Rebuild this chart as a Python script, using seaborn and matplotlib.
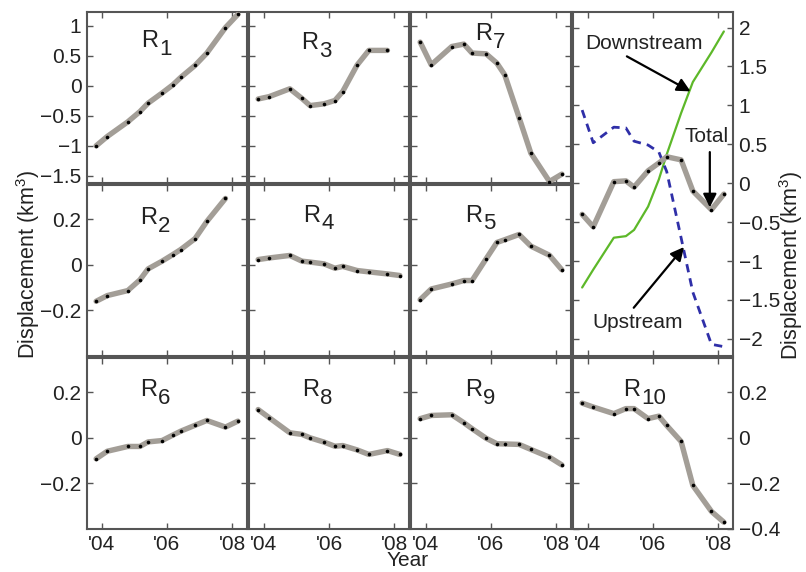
import numpy as np
import pandas as pd
import matplotlib
matplotlib.use("Agg")
import matplotlib.pyplot as plt
import seaborn as sns

# ---------------- data ----------------
T = [2003.83, 2004.17, 2004.80, 2005.17, 2005.42, 2005.85, 2006.18, 2006.42,
     2006.86, 2007.22, 2007.79, 2008.17]
nan = np.nan
R1 = [-1.00, -0.845, -0.60, -0.43, -0.29, -0.12, 0.017, 0.14, 0.34, 0.545, 0.97, 1.19]
R3 = [-0.22, -0.18, -0.05, -0.21, -0.33, -0.30, -0.245, -0.095, 0.345, 0.59, 0.59, nan]
R7 = [0.728, 0.35, 0.655, 0.695, 0.545, 0.533, 0.378, 0.183, -0.53, -1.122, -1.595, -1.472]
R2 = [-0.16, -0.135, -0.113, -0.066, -0.018, 0.016, 0.045, 0.067, 0.115, 0.19, 0.291, nan]
R4 = [0.023, 0.03, 0.041, 0.016, 0.012, 0.004, -0.015, -0.007, -0.025, -0.031, -0.04, -0.047]
R5 = [-0.153, -0.106, -0.084, -0.069, -0.069, 0.026, 0.098, 0.110, 0.133, 0.082, 0.042, -0.022]
R6 = [-0.092, -0.059, -0.038, -0.038, -0.018, -0.012, 0.012, 0.029, 0.055, 0.076, 0.047, 0.073]
R8 = [0.124, 0.088, 0.022, 0.015, 0.0, -0.019, -0.037, -0.034, -0.053, -0.073, -0.056, -0.073]
R9 = [0.084, 0.098, 0.101, 0.066, 0.04, -0.002, -0.026, -0.027, -0.029, -0.051, -0.085, -0.119]
R10 = [0.152, 0.135, 0.106, 0.128, 0.128, 0.084, 0.095, 0.054, -0.016, -0.209, -0.323, -0.370]
TOTAL = [-0.40, -0.56, 0.02, 0.03, -0.05, 0.16, 0.26, 0.34, 0.30, -0.10, -0.34, -0.14]
UPSTREAM = [0.94, 0.52, 0.72, 0.71, 0.54, 0.49, 0.40, 0.15, -0.70, -1.40, -2.07, -2.10]
DOWNSTREAM = [-1.34, -1.11, -0.70, -0.68, -0.60, -0.30, 0.05, 0.37, 0.90, 1.30, 1.68, 1.95]

XTICKS = [2004, 2006, 2008]
XTICKLABELS = ["'04", "'06", "'08"]
ROW1_TICKS = [-1.5, -1.0, -0.5, 0.0, 0.5, 1.0]
ROW1_LABELS = ["\u22121.5", "\u22121", "\u22120.5", "0", "0.5", "1"]
SMALL_TICKS = [-0.2, 0.0, 0.2]
SMALL_LABELS = ["\u22120.2", "0", "0.2"]
R10_TICKS = [-0.4, -0.2, 0.0, 0.2]
R10_LABELS = ["\u22120.4", "\u22120.2", "0", "0.2"]
TR_TICKS = [-2.0, -1.5, -1.0, -0.5, 0.0, 0.5, 1.0, 1.5, 2.0]
TR_LABELS = ["\u22122", "\u22121.5", "\u22121", "\u22120.5", "0", "0.5", "1", "1.5", "2"]

# ---------------- style ----------------
sns.set_theme(style="white")
plt.rcParams["font.family"] = ["Liberation Sans", "DejaVu Sans"]
plt.rcParams["mathtext.fontset"] = "custom"
plt.rcParams["mathtext.rm"] = "Liberation Sans"
plt.rcParams["mathtext.it"] = "Liberation Sans:italic"
plt.rcParams["mathtext.bf"] = "Liberation Sans:bold"

GRAY = "#a39e97"
SPINE = "#555555"
TXT = "#222222"
TICKFS = 15
XLIM = (2003.55, 2008.45)
ROW1_LIM = (-1.62, 1.23)
SMALL_LIM = (-0.40, 0.35)
TR_LIM = (-2.22, 2.20)

W, H = 806, 572
fig = plt.figure(figsize=(W / 100, H / 100), dpi=100)
fig.patch.set_facecolor("white")


def add(left, top, w, h):
    return fig.add_axes([left / W, 1 - (top + h) / H, w / W, h / H])


COLS = [87, 249, 411, 573]
ROWS = [12, 185, 358]
PW, PH = 160, 171


def style(ax, ylim, yticks):
    ax.set_xlim(*XLIM)
    ax.set_ylim(*ylim)
    ax.set_xticks(XTICKS)
    ax.set_yticks(yticks)
    ax.set_xticklabels([])
    ax.set_yticklabels([])
    ax.tick_params(direction="in", length=4, width=1, color=SPINE,
                   top=True, right=True, bottom=True, left=True,
                   labelsize=TICKFS, labelcolor=TXT, pad=4)
    for s in ax.spines.values():
        s.set_color(SPINE)
        s.set_linewidth(1.5)
    ax.set_xlabel("")
    ax.set_ylabel("")
    ax.set_facecolor("white")


def draw(ax, vals):
    df = pd.DataFrame({"t": T, "v": vals}).dropna()
    sns.lineplot(data=df, x="t", y="v", ax=ax, color=GRAY, linewidth=3.9,
                 marker="o", markersize=2.6, markerfacecolor="black",
                 markeredgecolor="black", markeredgewidth=0, sort=False,
                 errorbar=None, zorder=3)


def label(ax, num, bx, ry):
    # "R" with a large, lowered subscript number, as in the reference
    ax.text(bx, ry, "R", transform=ax.transAxes, ha="right", va="center",
            fontsize=17, color=TXT)
    ax.text(bx + 0.008, ry - 0.048, num, transform=ax.transAxes, ha="left",
            va="center", fontsize=16, color=TXT)


panels = [
    (0, 0, R1, "1", 0.444, 0.83, ROW1_LIM, ROW1_TICKS),
    (1, 0, R3, "3", 0.43, 0.816, ROW1_LIM, ROW1_TICKS),
    (2, 0, R7, "7", 0.506, 0.87, ROW1_LIM, ROW1_TICKS),
    (0, 1, R2, "2", 0.4375, 0.807, SMALL_LIM, SMALL_TICKS),
    (1, 1, R4, "4", 0.444, 0.82, SMALL_LIM, SMALL_TICKS),
    (2, 1, R5, "5", 0.444, 0.82, SMALL_LIM, SMALL_TICKS),
    (0, 2, R6, "6", 0.4375, 0.81, SMALL_LIM, SMALL_TICKS),
    (1, 2, R8, "8", 0.4375, 0.81, SMALL_LIM, SMALL_TICKS),
    (2, 2, R9, "9", 0.444, 0.81, SMALL_LIM, SMALL_TICKS),
    (3, 2, R10, "10", 0.42, 0.81, SMALL_LIM, R10_TICKS),
]

for c, r, vals, num, bx, ry, ylim, yt in panels:
    ax = add(COLS[c], ROWS[r], PW, PH)
    draw(ax, vals)
    style(ax, ylim, yt)
    label(ax, num, bx, ry)
    if c == 0:
        ax.set_yticklabels(ROW1_LABELS if r == 0 else SMALL_LABELS)
    if r == 2:
        ax.set_xticklabels(XTICKLABELS)
    if c == 3:
        ax.tick_params(labelleft=False, labelright=True)
        ax.set_yticklabels(R10_LABELS)

# ---- top right panel ----
ax = add(COLS[3], ROWS[0], PW, ROWS[1] + PH - ROWS[0])
sns.lineplot(x=T, y=DOWNSTREAM, ax=ax, color="#5db829", linewidth=1.6,
             sort=False, errorbar=None, zorder=2)
sns.lineplot(x=T, y=UPSTREAM, ax=ax, color="#2f2fa8", linewidth=2.0,
             sort=False, errorbar=None, zorder=2)
ax.lines[-1].set_linestyle((0, (3, 2.2)))
draw(ax, TOTAL)
style(ax, TR_LIM, TR_TICKS)
ax.tick_params(labelleft=False, labelright=True)
ax.set_yticklabels(TR_LABELS)

arrow = dict(arrowstyle="-|>", color="black", lw=1.6, mutation_scale=20,
             shrinkA=0, shrinkB=0)
ax.text(2005.73, 1.80, "Downstream", ha="center", va="center", fontsize=15,
        color=TXT)
ax.annotate("", xy=(2007.15, 1.18), xytext=(2005.20, 1.63), arrowprops=arrow)
ax.text(2007.64, 0.60, "Total", ha="center", va="center", fontsize=15,
        color=TXT)
ax.annotate("", xy=(2007.74, -0.31), xytext=(2007.74, 0.40), arrowprops=arrow)
ax.text(2005.52, -1.79, "Upstream", ha="center", va="center", fontsize=15,
        color=TXT)
ax.annotate("", xy=(2006.95, -0.82), xytext=(2005.41, -1.60), arrowprops=arrow)

# ---- figure labels ----
fig.text(28 / W, 1 - 265 / H, r"Displacement (km$^{3}$)", rotation=90,
         ha="center", va="center", fontsize=15.5, color=TXT)
fig.text(791 / W, 1 - 266 / H, r"Displacement (km$^{3}$)", rotation=90,
         ha="center", va="center", fontsize=15.5, color=TXT)
fig.text(408 / W, 1 - 561 / H, "Year", ha="center", va="center",
         fontsize=15, color=TXT)

fig.savefig("out.png", dpi=100, facecolor="white")
